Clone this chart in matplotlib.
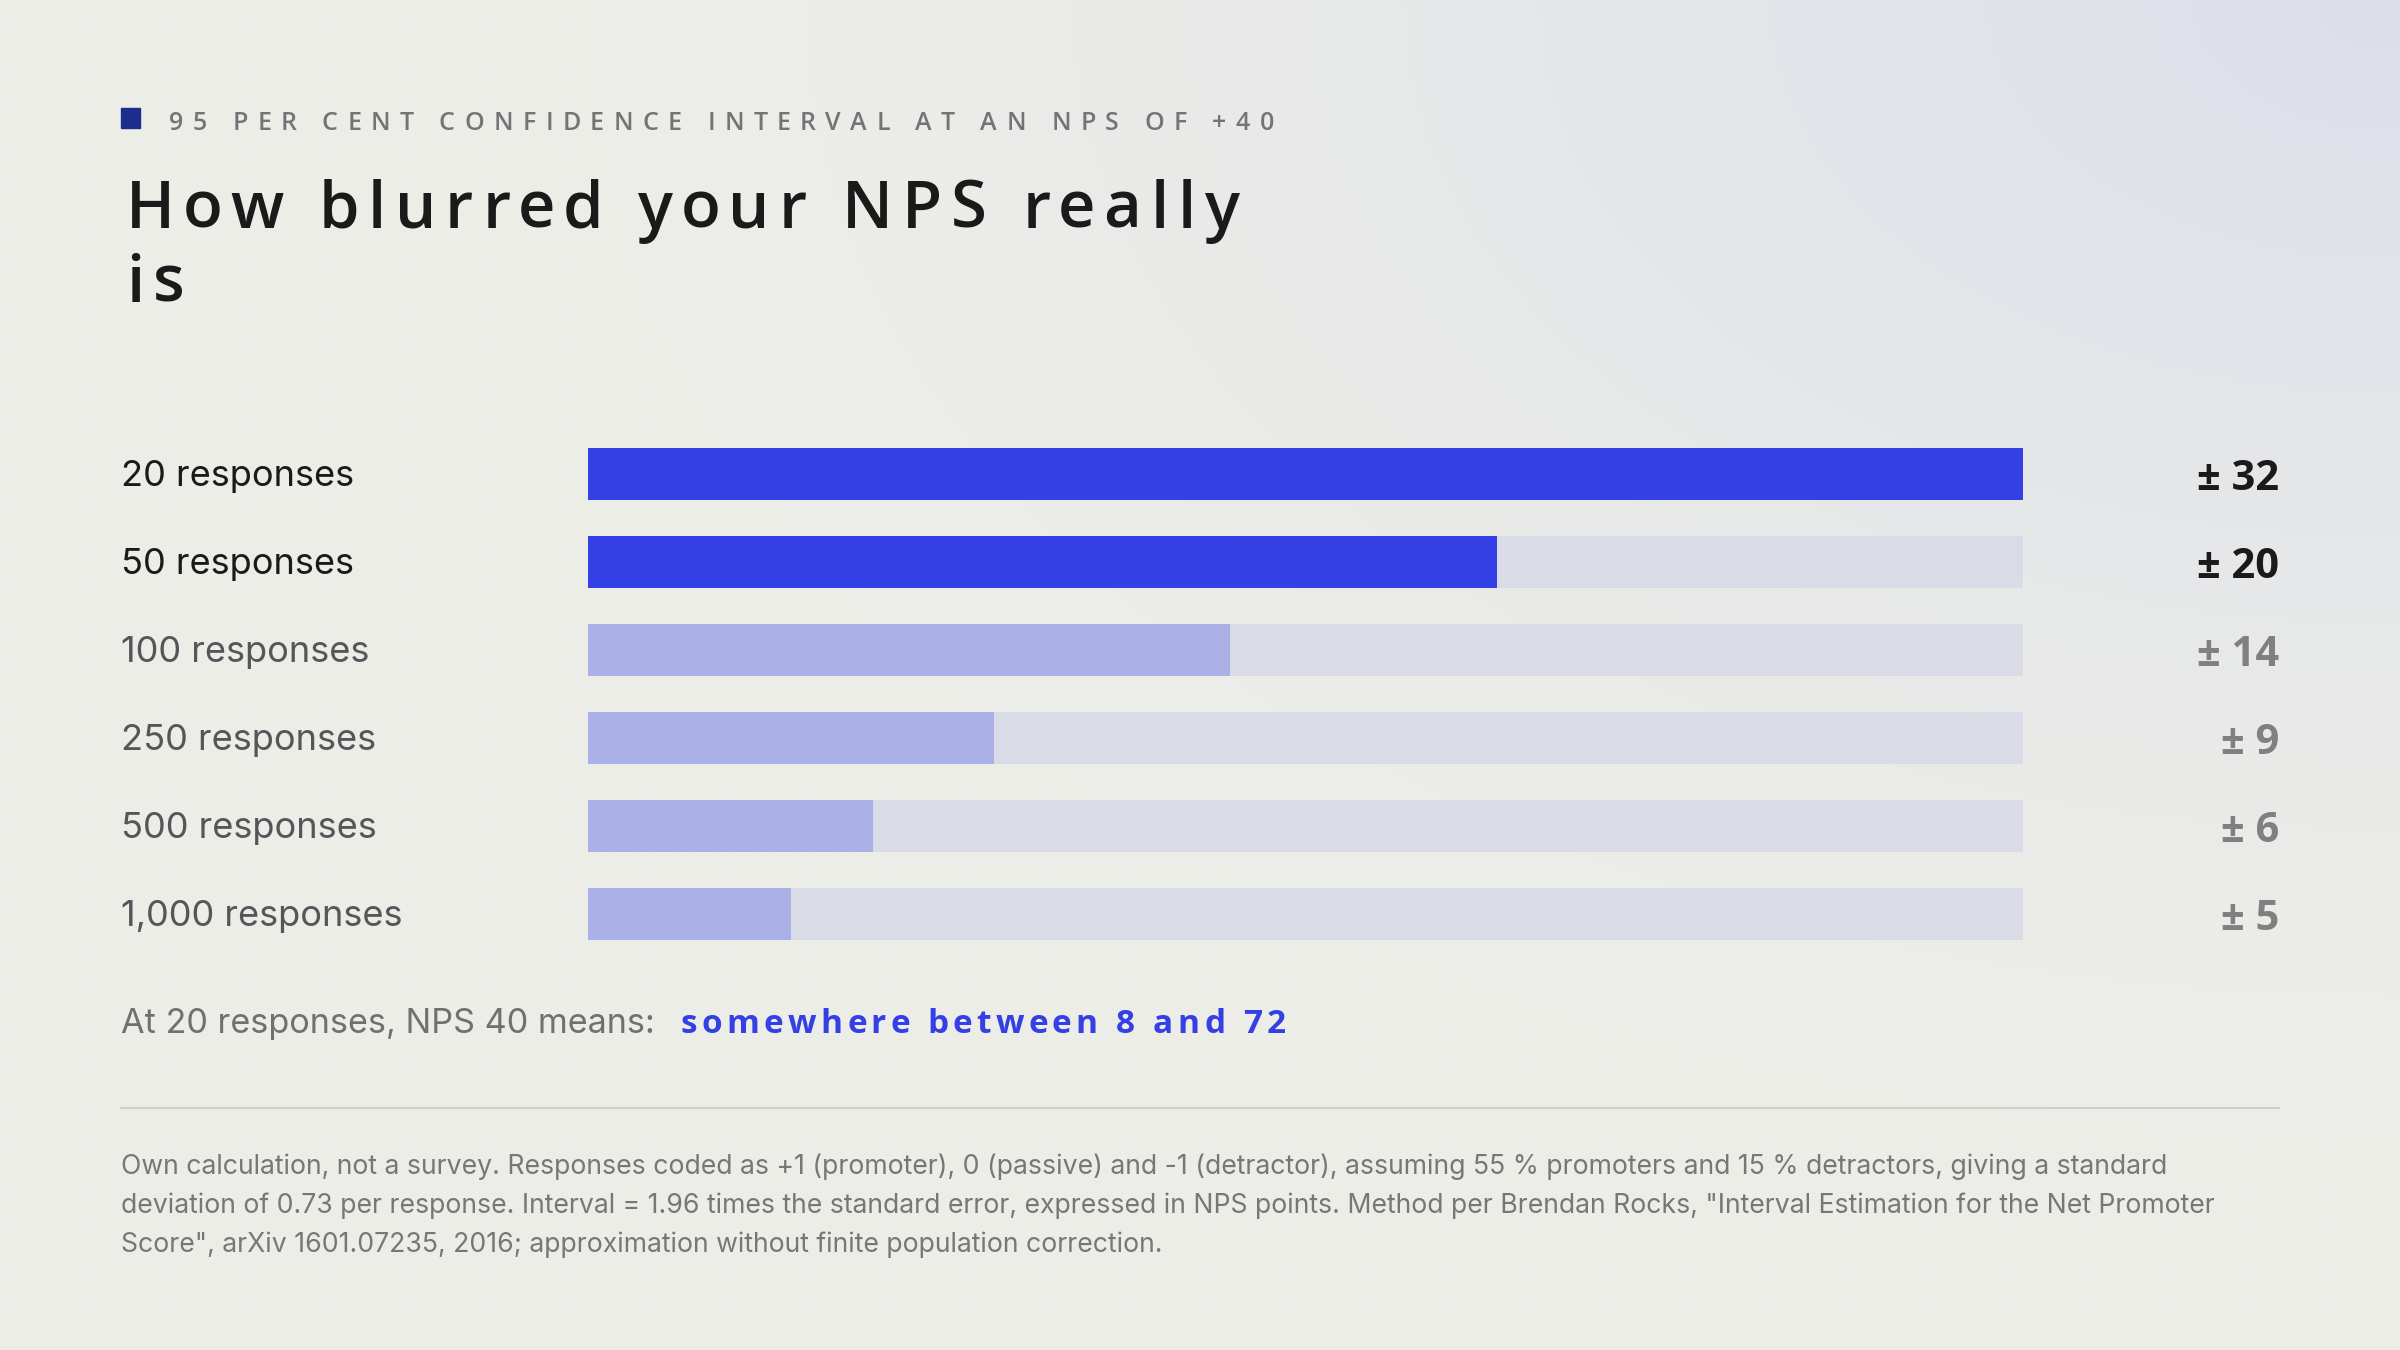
import numpy as np
import matplotlib
matplotlib.use("Agg")
import matplotlib.pyplot as plt
from matplotlib.font_manager import FontProperties
from matplotlib.patches import Rectangle
from matplotlib.transforms import blended_transform_factory, offset_copy

W, H, DPI = 2400, 1350, 100

# ---- data
eyebrow = "95 PER CENT CONFIDENCE INTERVAL AT AN NPS OF +40"
title_lines = ["How blurred your NPS really", "is"]
responses = ["20 responses", "50 responses", "100 responses",
             "250 responses", "500 responses", "1,000 responses"]
margins = [32.2, 20.4, 14.4, 9.1, 6.4, 4.55]
margin_labels = ["± 32", "± 20", "± 14", "± 9", "± 6", "± 5"]
n_highlight = 2
callout_lead = "At 20 responses, NPS 40 means:"
callout_value = "somewhere between 8 and 72"
footnote = [
    "Own calculation, not a survey. Responses coded as +1 (promoter), 0 (passive) and -1 (detractor), "
    "assuming 55 % promoters and 15 % detractors, giving a standard",
    "deviation of 0.73 per response. Interval = 1.96 times the standard error, expressed in NPS points. "
    "Method per Brendan Rocks, \"Interval Estimation for the Net Promoter",
    "Score\", arXiv 1601.07235, 2016; approximation without finite population correction.",
]

# ---- colours
BG_WARM = np.array([0xed, 0xed, 0xe8]) / 255
BG_COOL = np.array([0xdc, 0xdf, 0xea]) / 255
BLUE = "#3440e5"
BLUE_SOFT = "#aab0e6"
TRACK = "#d9dbe7"
NAVY = "#1d2d8c"
INK = "#1a1a1a"
GREY = "#747477"
GREY_DARK = "#55555a"

BODY = "Inter"
DISPLAY = "Open Sans"

fig = plt.figure(figsize=(W / DPI, H / DPI), dpi=DPI)
renderer = fig.canvas.get_renderer()


def text_width(s, prop):
    w, _, _ = renderer.get_text_width_height_descent(s, prop, ismath=False)
    return w


def fit_prop(s, width, family, weight="normal", size=20):
    # scale the font so the string spans the measured width
    prop = FontProperties(family=family, weight=weight, size=size)
    prop.set_size(size * width / text_width(s, prop))
    return prop


def tracked(x, y, s, prop, width=None, tracking=None, color=INK):
    """Letter-spaced text, x = left edge, y = baseline, both in pixels from top-left."""
    adv = [text_width("x" + c + "x", prop) - text_width("xx", prop) for c in s]
    if tracking is None:
        tracking = (width - sum(adv)) / max(len(s) - 1, 1)
    pen = x
    for c, a in zip(s, adv):
        if c != " ":
            fig.text((pen + a / 2) / W, 1 - y / H, c, ha="center", va="baseline",
                     fontproperties=prop, color=color)
        pen += a + tracking
    return tracking


# ---- background with a cool tint toward the top-right
bg = fig.add_axes([0, 0, 1, 1])
xx, yy = np.meshgrid(np.linspace(0, 1, 480), np.linspace(0, 1, 270))
d = np.hypot(1 - xx, yy * 0.9)
t = np.clip(1 - d / 0.75, 0, 1) ** 1.3
img = BG_WARM + (BG_COOL - BG_WARM) * t[..., None]
bg.imshow(img, extent=[0, W, H, 0], aspect="auto", interpolation="bicubic")
bg.set_xlim(0, W)
bg.set_ylim(H, 0)
bg.axis("off")

# ---- header
bg.add_patch(Rectangle((121, 108), 19, 20, color=NAVY))
tracked(169, 130, eyebrow, FontProperties(family=DISPLAY, weight="semibold", size=18),
        width=1274 - 169, color=GREY)
title_prop = FontProperties(family=DISPLAY, weight="semibold", size=47)
tr = tracked(126, 228, title_lines[0], title_prop, width=1114, color=INK)
tracked(126, 302, title_lines[1], title_prop, tracking=tr, color=INK)

# ---- bars
ax = fig.add_axes([588 / W, 1 - 958 / H, (2023 - 588) / W, 528 / H])
ax.patch.set_alpha(0)
rows = np.arange(len(responses))
scale_max = max(margins)
ax.barh(rows, [scale_max] * len(rows), height=0.58, color=TRACK)
bar_colors = [BLUE if i < n_highlight else BLUE_SOFT for i in rows]
ax.barh(rows, margins, height=0.58, color=bar_colors)
ax.set_xlim(0, scale_max)
ax.set_ylim(len(rows) - 0.5, -0.5)
ax.axis("off")

row_trans = blended_transform_factory(fig.transFigure, ax.transData)
label_prop = fit_prop("1,000 responses", 282, BODY, size=26)
value_prop = FontProperties(family=DISPLAY, weight="bold", size=30)
for i, (lab, val) in enumerate(zip(responses, margin_labels)):
    strong = i < n_highlight
    ax.text(121 / W, i, lab, transform=offset_copy(row_trans, fig=fig, y=-12, units="dots"),
            ha="left", va="baseline", fontproperties=label_prop,
            color=INK if strong else GREY_DARK)
    ax.text(2279 / W, i, val, transform=offset_copy(row_trans, fig=fig, y=-16, units="dots"),
            ha="right", va="baseline", fontproperties=value_prop,
            color=INK if strong else "#808080")

# ---- callout
fig.text(121 / W, 1 - 1033 / H, callout_lead, ha="left", va="baseline",
         fontproperties=fit_prop(callout_lead, 534, BODY, size=24), color="#707070")
tracked(681, 1033, callout_value, FontProperties(family=DISPLAY, weight="bold", size=24),
        width=605, color=BLUE)

# ---- divider and footnote
bg.plot([121, 2279], [1108, 1108], color="#cfcfca", lw=1.5)
foot_prop = fit_prop(footnote[0], 2051, BODY, size=17)
for line, base in zip(footnote, [1174, 1213, 1252]):
    fig.text(121 / W, 1 - base / H, line, ha="left", va="baseline",
             fontproperties=foot_prop, color="#777777")

fig.savefig("out.png", dpi=DPI)
